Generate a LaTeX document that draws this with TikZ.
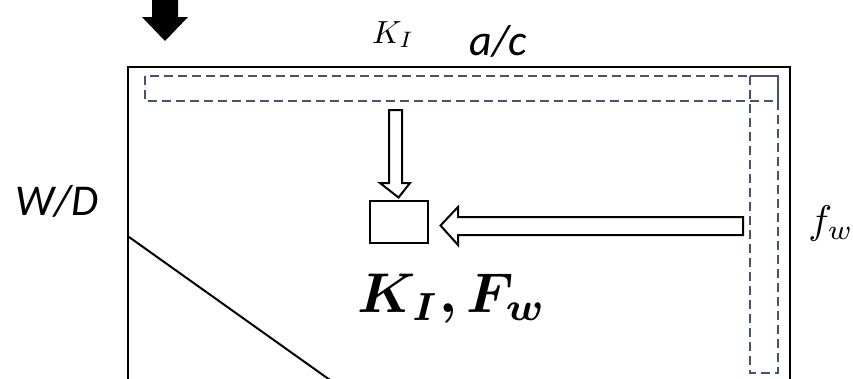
\documentclass[tikz,border=0pt]{standalone}
\usepackage{graphicx}
\usepackage{bm}
\usepackage{fontspec}
\setsansfont{Carlito}
\usetikzlibrary{calc}
\definecolor{stripblue}{HTML}{44546A}
\tikzset{
  frame/.style={line width=2pt, black},
  strip/.style={line width=2pt, stripblue, dash pattern=on 9pt off 5pt},
  blockarrow/.style={line width=2pt, black, fill=white, line join=miter},
  solidarrow/.style={fill=black, draw=none},
  lbl/.style={inner sep=0pt, anchor=base},
}
\begin{document}
\begin{tikzpicture}[x=1pt,y=-1pt]
\useasboundingbox (0,0) rectangle (853,378);
% main frame (bottom is outside the picture)
\draw[frame] (128,390) -- (128,67) -- (790,67) -- (790,390);
% dashed strips
\draw[strip] (145,76) rectangle (778,101);
\draw[strip] (750,76) rectangle (778,373);
% diagonal line
\draw[line width=2pt] (129,237) -- (330,380);
% box
\node[draw, line width=2pt, minimum width=58pt, minimum height=42pt, inner sep=0pt] (box) at (398.5,221.5) {};
% solid black arrow at top-left
\coordinate (dtip) at (165,41);
\fill[solidarrow] (152,-2) -- (178,-2) -- (178,17) -- (188,17) -- (dtip) -- (142,17) -- (152,17) -- cycle;
% vertical hollow arrow into box
\coordinate (vtip) at ($(box.north)+(0,-2)$);
\draw[blockarrow] (389,110) -- (402,110) -- (402,183) -- (410,183) -- (vtip) -- (380,183) -- (389,183) -- cycle;
% horizontal hollow arrow into box
\coordinate (htip) at ($(box.east)+(12,4)$);
\draw[blockarrow] (743,217) -- (458,217) -- (458,207) -- (htip) -- (458,245) -- (458,235) -- (743,235) -- cycle;
% labels
\node[lbl, font=\sffamily\itshape\fontsize{44}{44}\selectfont] (wd) at (57,215) {W/D};
\node[lbl, font=\sffamily\itshape\fontsize{44}{44}\selectfont] (ac) at (498,55) {a/c};
\node[lbl] (ki) at (393,43) {\scalebox{3.2}{$K_I$}};
\node[lbl] (fw) at (831,233) {\scalebox{4}{$f_w$}};
\node[lbl] (kf) at (452,312) {\scalebox{5.6}{$\bm{K_I}\bm{,}\bm{F_w}$}};
\end{tikzpicture}
\end{document}
